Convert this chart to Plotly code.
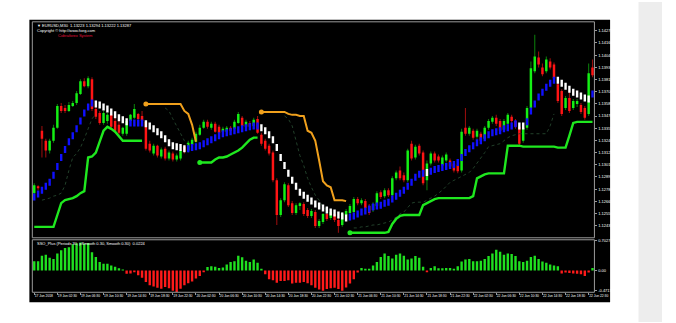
import plotly.graph_objects as go

W, H = 676, 323

# ---------------- data ----------------
bars = list(range(146))

opens = [1.12742,1.12807,1.13331,1.13237,1.13144,1.13237,1.13359,1.13564,1.13546,1.13518,
1.13564,1.13592,1.13677,1.13798,1.13751,1.13817,1.13536,1.13499,1.13405,1.13424,
1.13481,1.13424,1.13387,1.13303,1.13303,1.13424,1.13453,1.13490,1.13471,1.13415,
1.13209,1.13116,1.13190,1.13088,1.13162,1.13069,1.13116,1.13060,1.13069,1.13181,
1.13144,1.13200,1.13228,1.13294,1.13359,1.13415,1.13359,1.13396,1.13368,1.13322,
1.13322,1.13359,1.13349,1.13405,1.13453,1.13368,1.13405,1.13377,1.13443,1.13294,
1.13237,1.13190,1.13125,1.12863,1.12536,1.12676,1.12816,1.12648,1.12555,1.12620,
1.12639,1.12583,1.12527,1.12564,1.12433,1.12470,1.12546,1.12508,1.12546,1.12489,
1.12442,1.12536,1.12555,1.12564,1.12686,1.12648,1.12667,1.12620,1.12583,1.12620,
1.12751,1.12714,1.12770,1.12723,1.12882,1.12957,1.12910,1.12863,1.13209,1.13079,
1.13190,1.13125,1.12863,1.13022,1.13116,1.13088,1.13003,1.13050,1.13050,1.13022,
1.13003,1.12957,1.13359,1.13303,1.13331,1.13275,1.13303,1.13256,1.13359,1.13415,
1.13453,1.13424,1.13340,1.13396,1.13462,1.13424,1.13368,1.13237,1.13359,1.13546,
1.13892,1.14023,1.13929,1.13892,1.13985,1.13957,1.13770,1.13705,1.13546,1.13640,
1.13546,1.13583,1.13574,1.13546,1.13490,1.13929]

closes = [1.12816,1.12788,1.13256,1.13144,1.13237,1.13359,1.13564,1.13518,1.13518,1.13574,
1.13592,1.13686,1.13798,1.13751,1.13827,1.13536,1.13462,1.13405,1.13499,1.13481,
1.13368,1.13331,1.13312,1.13359,1.13424,1.13481,1.13536,1.13443,1.13424,1.13162,
1.13144,1.13190,1.13097,1.13153,1.13069,1.13125,1.13060,1.13097,1.13144,1.13135,
1.13218,1.13247,1.13303,1.13359,1.13415,1.13368,1.13396,1.13322,1.13312,1.13349,
1.13359,1.13331,1.13415,1.13490,1.13377,1.13415,1.13368,1.13434,1.13312,1.13209,
1.13162,1.13116,1.12863,1.12536,1.12676,1.12826,1.12629,1.12555,1.12629,1.12648,
1.12546,1.12527,1.12574,1.12433,1.12480,1.12546,1.12499,1.12564,1.12489,1.12433,
1.12546,1.12574,1.12620,1.12686,1.12648,1.12676,1.12601,1.12555,1.12639,1.12742,
1.12705,1.12770,1.12723,1.12882,1.12938,1.12882,1.12863,1.13144,1.13069,1.13181,
1.13116,1.12835,1.13022,1.13116,1.13050,1.13050,1.13079,1.13107,1.12994,1.12957,
1.12948,1.13322,1.13303,1.13359,1.13266,1.13331,1.13237,1.13359,1.13424,1.13453,
1.13396,1.13331,1.13424,1.13481,1.13424,1.13368,1.13209,1.13359,1.13546,1.13920,
1.14032,1.13957,1.13864,1.14004,1.13929,1.13827,1.13611,1.13490,1.13640,1.13518,
1.13611,1.13611,1.13509,1.13453,1.13873,1.13855]

highs = [1.12835,1.12816,1.13377,1.13256,1.13256,1.13387,1.13583,1.13592,1.13574,1.13602,
1.13611,1.13705,1.13817,1.13827,1.13845,1.13836,1.13555,1.13518,1.13518,1.13499,
1.13490,1.13453,1.13424,1.13368,1.13443,1.13490,1.13583,1.13499,1.13518,1.13424,
1.13237,1.13209,1.13200,1.13172,1.13181,1.13144,1.13135,1.13116,1.13153,1.13200,
1.13237,1.13266,1.13322,1.13387,1.13434,1.13434,1.13415,1.13415,1.13387,1.13368,
1.13377,1.13377,1.13434,1.13509,1.13471,1.13434,1.13424,1.13453,1.13471,1.13312,
1.13256,1.13209,1.13144,1.12882,1.12695,1.12844,1.12835,1.12667,1.12648,1.12657,
1.12657,1.12601,1.12592,1.12583,1.12499,1.12555,1.12564,1.12583,1.12564,1.12508,
1.12564,1.12592,1.12639,1.12705,1.12705,1.12695,1.12686,1.12639,1.12657,1.12761,
1.12770,1.12788,1.12788,1.12901,1.12957,1.12994,1.12938,1.13162,1.13237,1.13200,
1.13209,1.13144,1.13050,1.13135,1.13135,1.13107,1.13097,1.13125,1.13069,1.13041,
1.13022,1.13349,1.13546,1.13377,1.13349,1.13349,1.13322,1.13377,1.13443,1.13471,
1.13481,1.13443,1.13443,1.13499,1.13481,1.13443,1.13387,1.13377,1.13564,1.13985,
1.14238,1.14079,1.13966,1.14032,1.14014,1.13976,1.13798,1.13723,1.13658,1.13705,
1.13630,1.13630,1.13592,1.13564,1.13966,1.14004]

lows = [1.12714,1.12770,1.13079,1.13079,1.13116,1.13218,1.13349,1.13499,1.13499,1.13509,
1.13555,1.13574,1.13668,1.13742,1.13733,1.13518,1.13443,1.13387,1.13387,1.13396,
1.13349,1.13312,1.13294,1.13284,1.13284,1.13405,1.13443,1.13424,1.13405,1.13144,
1.13125,1.13097,1.13079,1.13069,1.13050,1.13050,1.13041,1.13041,1.13050,1.13116,
1.13125,1.13181,1.13218,1.13284,1.13349,1.13349,1.13340,1.13312,1.13303,1.13303,
1.13303,1.13322,1.13331,1.13396,1.13368,1.13359,1.13349,1.13359,1.13303,1.13190,
1.13144,1.13097,1.12844,1.12442,1.12518,1.12657,1.12611,1.12536,1.12536,1.12583,
1.12527,1.12508,1.12508,1.12414,1.12414,1.12452,1.12480,1.12489,1.12470,1.12368,
1.12424,1.12518,1.12536,1.12546,1.12629,1.12629,1.12583,1.12536,1.12564,1.12601,
1.12686,1.12695,1.12705,1.12705,1.12863,1.12863,1.12844,1.12844,1.13050,1.13060,
1.13097,1.12816,1.12770,1.13003,1.13031,1.13031,1.12985,1.13031,1.12975,1.12938,
1.12929,1.12938,1.13284,1.13284,1.13247,1.13256,1.13218,1.13237,1.13340,1.13396,
1.13377,1.13312,1.13322,1.13377,1.13405,1.13349,1.13190,1.13218,1.13340,1.13518,
1.13873,1.13929,1.13845,1.13873,1.13910,1.13808,1.13592,1.13471,1.13527,1.13499,
1.13527,1.13555,1.13490,1.13434,1.13471,1.13836]

mid_line = [1.12705,1.12733,1.12770,1.12807,1.12844,1.12910,1.12994,1.13079,1.13153,1.13228,
1.13284,1.13349,1.13424,1.13499,1.13555,1.13592,1.13583,1.13574,1.13555,1.13536,
1.13509,1.13481,1.13453,1.13434,1.13415,1.13405,1.13405,1.13405,1.13405,1.13396,
1.13377,1.13349,1.13322,1.13294,1.13256,1.13218,1.13190,1.13181,1.13172,1.13162,
1.13162,1.13172,1.13181,1.13190,1.13209,1.13228,1.13247,1.13266,1.13284,1.13303,
1.13312,1.13322,1.13331,1.13340,1.13349,1.13359,1.13368,1.13377,1.13377,1.13359,
1.13331,1.13294,1.13247,1.13172,1.13079,1.13003,1.12929,1.12863,1.12807,1.12751,
1.12723,1.12695,1.12667,1.12639,1.12620,1.12601,1.12583,1.12564,1.12555,1.12536,
1.12527,1.12508,1.12518,1.12527,1.12546,1.12564,1.12574,1.12592,1.12611,1.12620,
1.12629,1.12648,1.12657,1.12686,1.12714,1.12742,1.12770,1.12807,1.12844,1.12892,
1.12920,1.12929,1.12938,1.12948,1.12966,1.12975,1.12985,1.12994,1.13003,1.13013,
1.13031,1.13079,1.13125,1.13162,1.13190,1.13218,1.13237,1.13266,1.13294,1.13312,
1.13322,1.13331,1.13349,1.13359,1.13377,1.13396,1.13377,1.13377,1.13415,1.13518,
1.13583,1.13649,1.13695,1.13742,1.13780,1.13808,1.13808,1.13780,1.13751,1.13723,
1.13695,1.13677,1.13658,1.13640,1.13630,1.13677]

# U = rising (blue), D = falling (white)
mid_state = ("UUUUUUUUUUUUUUUU" "DDDDDDDDD" "UUUU" "DDDDDDDDDDD"
             "UUUUUUUUUUUUUUUUUUU" "DDDDDDDDDDDDDDDDDDDDDDD"
             "UUUUUUUUUUUUUUUUUUUU" "D" "UUUUUUUUUUUUUUUUUUUUUUU"
             "DD" "UUUUUUUU" "DDDDDDDDD" "U")

N_ = None
stop_up = [1.12424,1.12424,1.12424,1.12424,1.12424,1.12424,1.12536,1.12648,1.12676,1.12686,
1.12695,1.12714,1.12742,1.12761,1.13079,1.13088,1.13125,1.13228,1.13331,1.13368,
1.13349,1.13322,1.13275,1.13237,1.13237,1.13237,1.13237,1.13237,1.13237,
N_,N_,N_,N_,N_,N_,N_,N_,N_,N_,N_,N_,N_,N_,
1.13031,1.13031,1.13031,1.13031,1.13060,1.13079,1.13079,1.13088,1.13107,1.13125,
1.13144,1.13172,1.13209,1.13247,1.13266,1.13266,
N_,N_,N_,N_,N_,N_,N_,N_,N_,N_,N_,N_,N_,N_,N_,N_,N_,N_,N_,N_,N_,N_,N_,
1.12368,1.12368,1.12368,1.12368,1.12368,1.12368,1.12368,1.12368,1.12368,1.12368,
1.12377,1.12452,1.12499,1.12527,1.12536,1.12536,1.12536,1.12536,1.12536,1.12629,
1.12648,1.12667,1.12686,1.12695,1.12695,1.12695,1.12695,1.12695,1.12695,1.12695,
1.12695,1.12695,1.12714,1.12882,1.12901,1.12920,1.12929,1.12929,1.12929,1.12929,
1.12929,1.13190,1.13190,1.13190,1.13190,1.13181,1.13181,1.13181,1.13181,1.13181,
1.13181,1.13181,1.13181,1.13181,1.13172,1.13172,1.13172,1.13284,1.13405,1.13415,
1.13415,1.13415,1.13415,1.13415]

stop_dn = [N_,N_,N_,N_,N_,N_,N_,N_,N_,N_,N_,N_,N_,N_,N_,N_,N_,N_,N_,N_,
N_,N_,N_,N_,N_,N_,N_,N_,N_,
1.13583,1.13583,1.13583,1.13583,1.13583,1.13583,1.13583,1.13583,1.13583,1.13583,
1.13518,1.13490,1.13387,1.13228,
N_,N_,N_,N_,N_,N_,N_,N_,N_,N_,N_,N_,N_,N_,N_,N_,
1.13509,1.13509,1.13509,1.13509,1.13509,1.13509,1.13509,1.13490,1.13481,1.13481,
1.13471,1.13471,1.13331,1.13312,1.13237,1.13050,1.12854,1.12816,1.12798,1.12676,
1.12676,1.12676,1.12667,
N_,N_,N_,N_,N_,N_,N_,N_,N_,N_,N_,N_,N_,N_,N_,N_,N_,N_,N_,N_,N_,N_,N_,N_,N_,N_,N_,N_,N_,N_,N_,N_,
N_,N_,N_,N_,N_,N_,N_,N_,N_,N_,N_,N_,N_,N_,N_,N_,N_,N_,N_,N_,N_,N_,N_,N_,N_,N_,N_,N_,N_,N_,N_,N_]

trail_dots = [N_,N_,
1.12676,1.12686,1.12695,1.12714,1.12723,1.12742,1.12816,1.12957,1.13079,1.13116,
1.13172,1.13256,1.13359,1.13443,1.13490,
N_,N_,N_,N_,N_,N_,N_,N_,N_,N_,N_,N_,N_,N_,N_,N_,N_,
1.13546,1.13518,1.13443,1.13377,1.13312,1.13237,1.13190,
N_,N_,N_,N_,N_,N_,N_,N_,N_,N_,N_,N_,N_,N_,N_,N_,N_,N_,N_,N_,N_,N_,N_,N_,
1.13471,1.13443,1.13377,1.13237,1.13097,1.13003,1.12882,1.12798,1.12723,1.12676,
1.12611,1.12583,
N_,N_,N_,N_,N_,N_,
1.12414,1.12414,1.12424,1.12424,1.12433,1.12442,1.12442,1.12452,1.12461,1.12470,
1.12489,1.12518,1.12546,1.12564,1.12601,1.12648,1.12657,1.12657,1.12657,1.12676,
1.12695,1.12714,1.12742,1.12770,1.12807,1.12844,1.12863,1.12882,1.12901,1.12920,
1.12938,1.12975,1.13022,1.13069,1.13125,1.13181,1.13190,1.13200,1.13209,1.13237,
1.13266,1.13284,1.13294,1.13303,1.13303,1.13303,1.13303,1.13303,1.13303,1.13303,
1.13303,1.13377,1.13490,
N_,N_,N_,N_,N_,N_,N_,N_,N_,N_]

osc = [0.22,0.22,0.35,0.37,0.30,0.27,0.40,0.48,0.53,0.55,
0.62,0.64,0.66,0.63,0.65,0.43,0.32,0.20,0.16,0.16,
0.12,0.09,0.05,0.02,-0.08,-0.07,-0.04,-0.11,-0.17,-0.27,
-0.35,-0.38,-0.41,-0.43,-0.39,-0.42,-0.48,-0.51,-0.43,-0.35,
-0.30,-0.26,-0.19,-0.13,-0.04,0.08,0.10,0.09,0.06,0.07,
0.14,0.20,0.22,0.35,0.31,0.23,0.20,0.26,0.18,0.04,
-0.09,-0.21,-0.23,-0.29,-0.25,-0.25,-0.23,-0.31,-0.29,-0.29,
-0.27,-0.30,-0.35,-0.41,-0.45,-0.48,-0.44,-0.42,-0.41,-0.44,
-0.48,-0.40,-0.31,-0.21,-0.05,0.06,0.04,0.04,0.12,0.20,
0.32,0.40,0.34,0.28,0.37,0.40,0.35,0.26,0.28,0.34,
0.30,0.09,-0.04,0.06,0.10,0.05,0.05,0.06,0.06,0.04,
0.10,0.21,0.26,0.27,0.22,0.22,0.23,0.27,0.34,0.40,
0.49,0.44,0.37,0.40,0.39,0.34,0.22,0.20,0.23,0.32,
0.35,0.27,0.21,0.18,0.14,0.12,0.10,-0.07,-0.05,-0.06,
-0.07,-0.08,-0.09,-0.13,-0.05,0.06]

price_ticks = [1.14275,1.14160,1.14045,1.13930,1.13815,1.13700,1.13585,1.13470,1.13355,
               1.13240,1.13125,1.13010,1.12895,1.12780,1.12665,1.12550,1.12435,1.12320]
osc_ticks = [0.7027, 0.0, -0.4717]
osc_tick_text = ["0.7027", "0.00", "-0.4717"]

time_tick_bars = [0,6,12,18,24,30,36,42,48,54,60,66,72,78,84,90,96,102,108,114,120,126,132,138,144]
time_labels = ["17 Jun 2018",
  "19 Jun 02:30","19 Jun 06:30","19 Jun 10:30","19 Jun 14:30","19 Jun 18:30","19 Jun 22:30",
  "20 Jun 02:30","20 Jun 06:30","20 Jun 10:30","20 Jun 14:30","20 Jun 18:30","20 Jun 22:30",
  "21 Jun 02:30","21 Jun 06:30","21 Jun 10:30","21 Jun 14:30","21 Jun 18:30","21 Jun 22:30",
  "22 Jun 02:30","22 Jun 06:30","22 Jun 10:30","22 Jun 14:30","22 Jun 18:30","22 Jun 22:30"]

header_text = "\u25BC EURUSD,M30  1.13223 1.13294 1.13222 1.13287"
copyright_text = "Copyright \u00A9 http://www.fxeg.com"
red_text = "Cobraforex System"
osc_title = "SSO_Plus (Periods 30, pSmooth 0.30, Smooth 0.30)  0.0224"

# ---------------- styling ----------------
FONT = "Liberation Sans"
BULL, BEAR = "#14f014", "#ff1414"
BULL_W, BEAR_W = "#0b7a0b", "#960d0d"
STOP_UP_C, STOP_DN_C = "#1fe81f", "#f0a01c"

def px_x(v):
    return v / W

def px_y(v):
    return 1 - v / H

fig = go.Figure()

# candle wicks (dark, thin)
wick = [h - l for h, l in zip(highs, lows)]
up = [c > o for o, c in zip(opens, closes)]
fig.add_trace(go.Bar(
    x=bars, y=wick, base=lows, width=0.28,
    marker=dict(color=[BULL_W if u else BEAR_W for u in up], line=dict(width=0)),
    hoverinfo="skip", showlegend=False, xaxis="x", yaxis="y"))

# candle bodies (bright)
body = [c - o for o, c in zip(opens, closes)]
fig.add_trace(go.Bar(
    x=bars, y=body, base=opens, width=0.64,
    marker=dict(color=[BULL if u else BEAR for u in up], line=dict(width=0)),
    hoverinfo="skip", showlegend=False, xaxis="x", yaxis="y"))

# faint dotted trailing levels
fig.add_trace(go.Scatter(
    x=bars, y=trail_dots, mode="lines", connectgaps=False,
    line=dict(color="#22402a", width=1, dash="dot"),
    hoverinfo="skip", showlegend=False, xaxis="x", yaxis="y"))

# stop lines
fig.add_trace(go.Scatter(
    x=bars, y=stop_up, mode="lines", connectgaps=False,
    line=dict(color=STOP_UP_C, width=2.4),
    hoverinfo="skip", showlegend=False, xaxis="x", yaxis="y"))
fig.add_trace(go.Scatter(
    x=bars, y=stop_dn, mode="lines", connectgaps=False,
    line=dict(color=STOP_DN_C, width=2),
    hoverinfo="skip", showlegend=False, xaxis="x", yaxis="y"))

# dots at the start of each new stop segment
for series, col in ((stop_up, STOP_UP_C), (stop_dn, STOP_DN_C)):
    sx, sy = [], []
    for i in range(1, len(series)):
        if series[i] is not None and series[i - 1] is None:
            sx.append(bars[i]); sy.append(series[i])
    fig.add_trace(go.Scatter(
        x=sx, y=sy, mode="markers", marker=dict(color=col, size=5),
        hoverinfo="skip", showlegend=False, xaxis="x", yaxis="y"))

# mid line (blue rising / white falling)
fig.add_trace(go.Scatter(
    x=bars, y=mid_line, mode="markers",
    marker=dict(symbol="line-ns", size=5,
                line=dict(width=2.4, color=["#1010ff" if s == "U" else "#ffffff" for s in mid_state])),
    hoverinfo="skip", showlegend=False, xaxis="x", yaxis="y"))

# oscillator histogram
fig.add_trace(go.Bar(
    x=bars, y=osc, width=0.62,
    marker=dict(color=["#20e020" if v >= 0 else "#ff1a1a" for v in osc], line=dict(width=0)),
    hoverinfo="skip", showlegend=False, xaxis="x", yaxis="y2"))

x_dom = [px_x(33), px_x(607)]
main_dom = [px_y(238), px_y(20)]
osc_dom = [px_y(293), px_y(240)]

tickfont = dict(family=FONT, size=4, color="#ffffff")
timefont = dict(family=FONT, size=3.3, color="#ffffff")

fig.update_layout(
    width=W, height=H, autosize=False,
    margin=dict(l=0, r=0, t=0, b=0),
    paper_bgcolor="#ffffff", plot_bgcolor="#000000",
    barmode="overlay", showlegend=False,
    xaxis=dict(domain=x_dom, range=[-0.5, 145.5], anchor="y2",
               tickvals=time_tick_bars, ticktext=time_labels, tickangle=0,
               ticklabelposition="outside right", ticklabeloverflow="allow",
               ticks="outside", ticklen=2, tickcolor="#9a9a9a", tickfont=timefont,
               showgrid=False, zeroline=False, showline=False,
               rangeslider=dict(visible=False), fixedrange=True),
    yaxis=dict(domain=main_dom, range=[1.12321, 1.14359], anchor="x", side="right",
               tickvals=price_ticks, ticktext=["%.5f" % v for v in price_ticks],
               ticks="outside", ticklen=2, tickcolor="#9a9a9a", tickfont=tickfont,
               showgrid=False, zeroline=False, showline=False),
    yaxis2=dict(domain=osc_dom, range=[-0.515, 0.725], anchor="x", side="right",
                tickvals=osc_ticks, ticktext=osc_tick_text,
                ticks="outside", ticklen=2, tickcolor="#9a9a9a", tickfont=tickfont,
                showgrid=False, zeroline=False, showline=False),
)

shapes = [
    dict(type="rect", xref="paper", yref="paper", layer="below",
         x0=px_x(30), x1=px_x(623), y0=px_y(303), y1=px_y(18),
         fillcolor="#000000", line=dict(width=0)),
    dict(type="rect", xref="paper", yref="paper", layer="below",
         x0=px_x(652), x1=1, y0=0, y1=1, fillcolor="#ededed", line=dict(width=0)),
    dict(type="rect", xref="paper", yref="paper", layer="above",
         x0=x_dom[0], x1=x_dom[1], y0=main_dom[0], y1=main_dom[1],
         fillcolor="rgba(0,0,0,0)", line=dict(color="#9a9a9a", width=1)),
    dict(type="rect", xref="paper", yref="paper", layer="above",
         x0=x_dom[0], x1=x_dom[1], y0=osc_dom[0], y1=osc_dom[1],
         fillcolor="rgba(0,0,0,0)", line=dict(color="#9a9a9a", width=1)),
]
fig.update_layout(shapes=shapes)

ann = [
    dict(text=header_text, x=px_x(36), y=px_y(23.5), color="#ffffff"),
    dict(text=copyright_text, x=px_x(36), y=px_y(28.5), color="#ffffff"),
    dict(text=red_text, x=px_x(57), y=px_y(33.5), color="#e0103a"),
    dict(text=osc_title, x=px_x(36), y=px_y(243.5), color="#ffffff"),
]
fig.update_layout(annotations=[
    dict(text=a["text"], x=a["x"], y=a["y"], xref="paper", yref="paper",
         xanchor="left", yanchor="middle", showarrow=False,
         font=dict(family=FONT, size=4, color=a["color"]))
    for a in ann])

fig.write_html(
    "out.html",
    config=dict(displayModeBar=False, staticPlot=True, responsive=False),
    post_script="document.body.style.margin='0';",
)
